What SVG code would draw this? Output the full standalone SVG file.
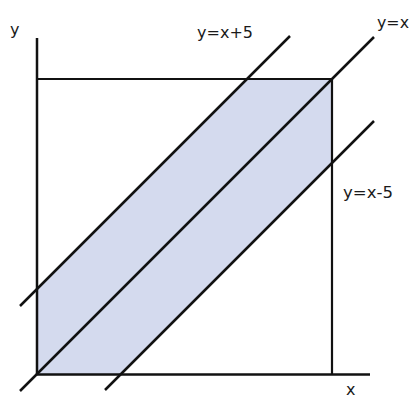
<svg xmlns="http://www.w3.org/2000/svg" width="410" height="400" viewBox="0 0 410 400">
<style>
.ln{stroke:#111;stroke-width:2.5;fill:none;stroke-linecap:butt}
.sq{stroke:#111;stroke-width:2.2;fill:none}
.lb{font-family:"DejaVu Sans","Noto Sans",sans-serif;font-size:16px;fill:#1a1a1a}
</style>
<rect width="410" height="400" fill="#ffffff"/>
<g id="region">
<polygon points="37,374 37,288 246,79 332,79 332,164 122,374" fill="#d4daee"/>
</g>
<g id="square">
<polyline class="sq" points="37,79 332,79 332,374"/>
</g>
<g id="axes">
<line class="ln" x1="37" y1="38" x2="37" y2="375"/>
<line class="ln" x1="36" y1="374.5" x2="370" y2="374.5"/>
</g>
<g id="connectors">
<line class="ln" x1="20" y1="391" x2="374" y2="37"/>
<line class="ln" x1="20" y1="306" x2="290" y2="36"/>
<line class="ln" x1="105" y1="390" x2="374" y2="121"/>
</g>
<g id="labels">
<text class="lb" x="10" y="35">y</text>
<text class="lb" x="197" y="38" textLength="56" lengthAdjust="spacingAndGlyphs">y=x+5</text>
<text class="lb" x="377" y="28" textLength="32" lengthAdjust="spacingAndGlyphs">y=x</text>
<text class="lb" x="343" y="198" textLength="50" lengthAdjust="spacingAndGlyphs">y=x-5</text>
<text class="lb" x="346" y="395">x</text>
</g>
</svg>
